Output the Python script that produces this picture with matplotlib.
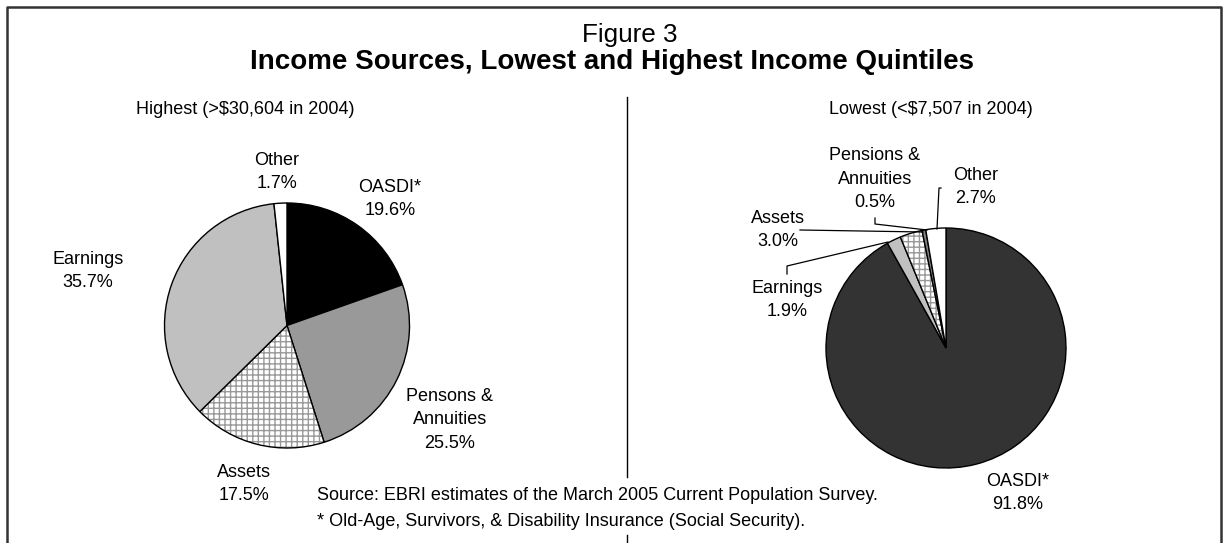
import matplotlib
matplotlib.use("Agg")
import matplotlib.pyplot as plt
from matplotlib.colors import to_rgba

plt.rcParams['font.family'] = ['Liberation Sans', 'DejaVu Sans']

# ---- data ----
title_top = "Figure 3"
title_main = "Income Sources, Lowest and Highest Income Quintiles"
left_title = "Highest (>$30,604 in 2004)"
right_title = "Lowest (<$7,507 in 2004)"
left_labels = ['OASDI*', 'Pensons &\nAnnuities', 'Assets', 'Earnings', 'Other']
left_values = [19.6, 25.5, 17.5, 35.7, 1.7]
right_labels = ['OASDI*', 'Earnings', 'Assets', 'Pensions &\nAnnuities', 'Other']
right_values = [91.8, 1.9, 3.0, 0.5, 2.7]
source_lines = ["Source: EBRI estimates of the March 2005 Current Population Survey.",
                "* Old-Age, Survivors, & Disability Insurance (Social Security)."]

# ---- styles ----
left_colors = ['#000000', '#999999', '#ffffff', '#c0c0c0', '#ffffff']
left_hatch = [None, None, '+++', None, None]
right_colors = ['#333333', '#c0c0c0', '#ffffff', '#808080', '#ffffff']
right_hatch = [None, None, '+++', None, None]

W, H = 1225, 543
fig = plt.figure(figsize=(W / 100, H / 100), dpi=100)
ax = fig.add_axes([0, 0, 1, 1])

def Y(y):
    return H - y

def draw_pie(values, colors, hatches, cx, cy, r):
    wedges, _ = ax.pie(values, colors=colors, startangle=90, counterclock=False,
                       center=(cx, Y(cy)), radius=r,
                       wedgeprops=dict(edgecolor='black', linewidth=1.0))
    for w, h in zip(wedges, hatches):
        if h:
            w.set_hatch(h)
            w._hatch_color = to_rgba('#999999')
    return wedges

draw_pie(left_values, left_colors, left_hatch, 287, 325.5, 122.5)
draw_pie(right_values, right_colors, right_hatch, 946, 348, 120)

ax.set_xlim(0, W)
ax.set_ylim(0, H)
ax.set_position([0, 0, 1, 1])
ax.set_aspect('auto')
ax.axis('off')

fs = 13
ls = 1.5
def lab(x, y, label, val):
    ax.text(x, Y(y), f"{label}\n{val:.1f}%", ha='center', va='center',
            fontsize=fs, linespacing=ls)

# left labels
lpos = [(390, 199), (450, 420), (244, 484), (88, 271), (277, 172)]
for (x, y), l, v in zip(lpos, left_labels, left_values):
    lab(x, y, l, v)
# right labels
rpos = [(1018, 493), (787, 300), (778, 230), (875, 179), (976, 187)]
for (x, y), l, v in zip(rpos, right_labels, right_values):
    lab(x, y, l, v)

# leader lines (right pie)
lk = dict(color='black', lw=0.9)
ax.plot([787, 787, 888], [Y(274), Y(266), Y(242)], **lk)     # Earnings
ax.plot([800, 923], [Y(230), Y(232)], **lk)                  # Assets
ax.plot([875, 875, 927], [Y(218), Y(224), Y(230)], **lk)     # Pensions
ax.plot([941, 939, 937], [Y(188), Y(188), Y(229)], **lk)     # Other

# titles
ax.text(630, Y(35), title_top, ha='center', va='center', fontsize=18.8)
ax.text(612, Y(62), title_main, ha='center', va='center', fontsize=20,
        fontweight='bold')
ax.text(245, Y(110), left_title, ha='center', va='center', fontsize=fs)
ax.text(931, Y(110), right_title, ha='center', va='center', fontsize=fs)

ax.text(317, Y(496), source_lines[0], ha='left', va='center', fontsize=fs)
ax.text(317, Y(521), source_lines[1], ha='left', va='center', fontsize=fs)

# divider
ax.plot([627, 627], [Y(97), Y(477)], color='black', lw=1.0)
ax.plot([627, 627], [Y(535), Y(543)], color='black', lw=1.0)

# border
bk = dict(color='#333333', lw=1.8, solid_capstyle='projecting')
ax.plot([6.5, 6.5, 1220.5, 1220.5], [Y(543), Y(6.5), Y(6.5), Y(543)], **bk)

fig.savefig('out.png', dpi=100)
